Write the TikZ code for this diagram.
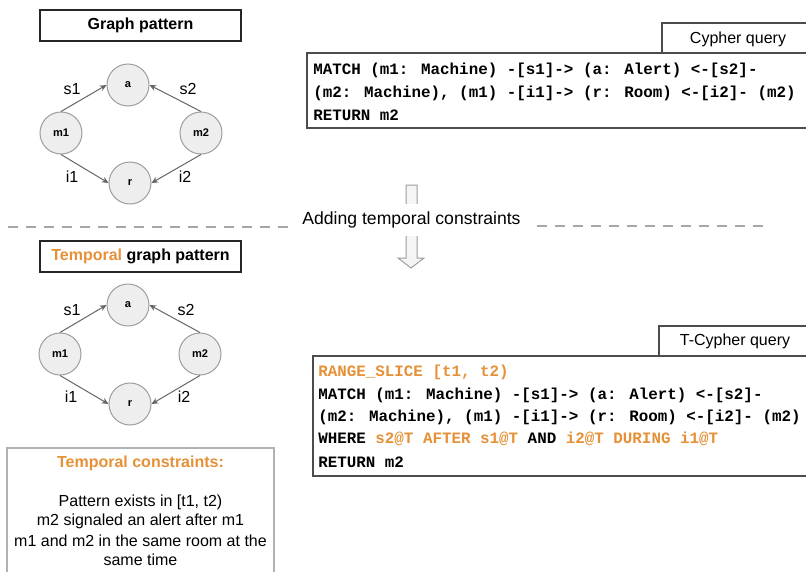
\documentclass[tikz,border=0pt]{standalone}
\usepackage{fontspec}
\setmainfont{Liberation Sans}
\newfontfamily\codefont{Liberation Mono}
\usetikzlibrary{arrows.meta}
\definecolor{tor}{HTML}{E69138}
\definecolor{nfill}{HTML}{EEEEEE}
\definecolor{nline}{HTML}{9E9E9E}
\definecolor{eline}{HTML}{666666}
\definecolor{dline}{HTML}{A6A6A6}
\tikzset{
  gnode/.style={circle,draw=nline,fill=nfill,line width=0.75pt,minimum size=31.5pt,inner sep=0pt,font=\fontsize{8.3}{9}\selectfont\bfseries},
  gedge/.style={draw=eline,line width=0.75pt,-{Stealth[length=5pt,width=4.5pt]}},
  elab/.style={font=\fontsize{12}{14}\selectfont},
  titlebox/.style={draw=black!85,line width=1pt,font=\fontsize{12}{14}\selectfont\bfseries},
  qbox/.style={draw=black!70,line width=0.9pt},
  codeline/.style={anchor=west,inner sep=0pt,font=\codefont\bfseries\fontsize{11.9}{14}\selectfont},
  sep/.style={draw=dline,line width=1.3pt,dash pattern=on 7.5pt off 6pt},
  plain/.style={font=\fontsize{12}{14}\selectfont,inner sep=0pt}
}
\begin{document}
\begin{tikzpicture}[x=0.75pt,y=-0.75pt]
\useasboundingbox (0,0) rectangle (806,571);
\clip (0,0) rectangle (806,571);
\fill[white] (0,0) rectangle (806,571);

% ---- top graph pattern ----
\draw[titlebox] (40,10) rectangle (241,41);
\node[plain,font=\fontsize{12}{14}\selectfont\bfseries] (t1) at (140.5,25.5) {Graph pattern};
\node[gnode] (a1) at (128,85) {a};
\node[gnode] (m11) at (61,133) {m1};
\node[gnode] (m21) at (201,133) {m2};
\node[gnode] (r1) at (130,183) {r};
\draw[gedge] (m11.north) -- (a1.west);
\draw[gedge] (m21.north) -- (a1.east);
\draw[gedge] (m11.south) -- (r1.west);
\draw[gedge] (m21.south) -- (r1.east);
\node[elab] (s11) at (72,89) {s1};
\node[elab] (s21) at (188,89) {s2};
\node[elab] (i11) at (72,177) {i1};
\node[elab] (i21) at (185,177) {i2};

% ---- top query ----
\draw[qbox] (662,23) rectangle (812,53);
\node[plain] (cq) at (738,39) {Cypher query};
\draw[qbox] (307,53) rectangle (812,128);
\node[codeline] (c1) at (313,70) {MATCH (m1: Machine) -[s1]-> (a: Alert) <-[s2]-};
\node[codeline] (c2) at (313,93) {(m2: Machine), (m1) -[i1]-> (r: Room) <-[i2]- (m2)};
\node[codeline] (c3) at (313,115) {RETURN m2};

% ---- separator and arrow ----
\draw[sep] (8,227) -- (290,227);
\draw[sep] (537,226) -- (770,226);
\draw[draw=nline,fill=nfill!60,line width=0.75pt] (406,185) -- (417,185) -- (417,258) -- (424,258) -- (411,268) -- (398,258) -- (406,258) -- cycle;
\node[plain,font=\fontsize{13.2}{15}\selectfont,fill=white,inner xsep=3pt,inner ysep=6pt] (add) at (411.5,220) {Adding temporal constraints};

% ---- bottom temporal graph pattern ----
\draw[titlebox] (40,241) rectangle (241,272);
\node[plain,font=\fontsize{12}{14}\selectfont\bfseries] (t2) at (140.5,256.5) {\textcolor{tor}{Temporal} graph pattern};
\node[gnode] (a2) at (128,305) {a};
\node[gnode] (m12) at (60,354) {m1};
\node[gnode] (m22) at (200,354) {m2};
\node[gnode] (r2) at (130,404) {r};
\draw[gedge] (m12.north) -- (a2.west);
\draw[gedge] (m22.north) -- (a2.east);
\draw[gedge] (m12.south) -- (r2.west);
\draw[gedge] (m22.south) -- (r2.east);
\node[elab] (s12) at (72,310) {s1};
\node[elab] (s22) at (186,310) {s2};
\node[elab] (i12) at (71,397) {i1};
\node[elab] (i22) at (184,397) {i2};

% ---- temporal constraints box ----
\draw[draw=black!30,line width=0.9pt] (7,448) rectangle (274,580);
\node[plain,font=\fontsize{12}{14}\selectfont\bfseries,text=tor] (tc) at (140.5,463.5) {Temporal constraints:};
\node[plain] (l1) at (140.5,502) {Pattern exists in [t1, t2)};
\node[plain] (l2) at (140.5,521) {m2 signaled an alert after m1};
\node[plain] (l3) at (140.5,541) {m1 and m2 in the same room at the};
\node[plain] (l4) at (140.5,560) {same time};

% ---- bottom query ----
\draw[qbox] (659,326) rectangle (812,356);
\node[plain] (tq) at (735,341) {T-Cypher query};
\draw[qbox] (313,356) rectangle (812,476);
\node[codeline,text=tor] (d1) at (318,372) {RANGE\_SLICE [t1, t2)};
\node[codeline] (d2) at (318,395) {MATCH (m1: Machine) -[s1]-> (a: Alert) <-[s2]-};
\node[codeline] (d3) at (318,417) {(m2: Machine), (m1) -[i1]-> (r: Room) <-[i2]- (m2)};
\node[codeline] (d4) at (318,439) {WHERE \textcolor{tor}{s2@T AFTER s1@T} AND \textcolor{tor}{i2@T DURING i1@T}};
\node[codeline] (d5) at (318,462) {RETURN m2};
\end{tikzpicture}
\end{document}
